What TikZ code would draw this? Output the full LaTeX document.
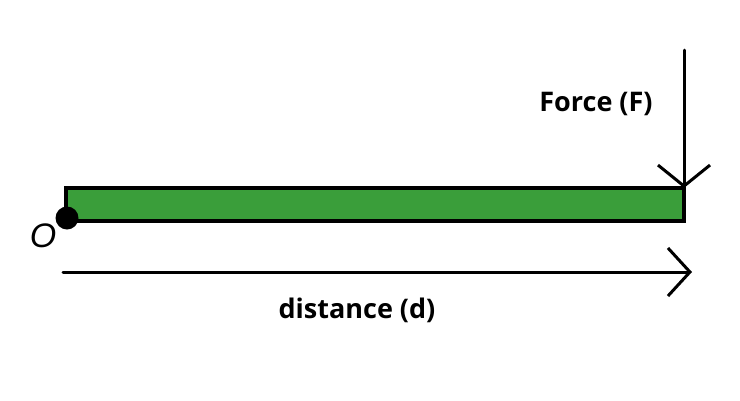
\documentclass[tikz,border=0pt]{standalone}
\usepackage{fontspec}
\setmainfont{Open Sans}
\usetikzlibrary{arrows.meta}
\definecolor{bargreen}{RGB}{58,158,58}
\tikzset{
  barbox/.style={draw=black, line width=4pt, fill=bargreen, rectangle, minimum width=618pt, minimum height=33pt, inner sep=0pt, outer sep=0pt, anchor=north west},
  pivot/.style={circle, fill=black, minimum size=23pt, inner sep=0pt},
  lbl/.style={font=\fontsize{27}{30}\selectfont\bfseries, inner sep=0pt},
  olbl/.style={font=\fontsize{34}{36}\selectfont\itshape, inner sep=0pt},
  arrowline/.style={line width=3pt, line cap=round, -{Straight Barb[length=21pt, width=52pt, line width=3pt]}},
  distline/.style={line width=3pt, line cap=round, -{Straight Barb[length=22pt, width=48pt, line width=3pt]}}
}
\begin{document}
\begin{tikzpicture}[x=1pt, y=-1pt]
\useasboundingbox (0,0) rectangle (740,400);
\node[barbox] (bar) at (66,188) {};
\node[pivot] (dot) at (67,218) {};
\node[olbl] (o) at (43,236) {\fontspec{Liberation Sans}\itshape O};
\coordinate (ftop) at (684,50);
\draw[arrowline] (ftop) -- (bar.north east);
\node[lbl] (force) at (596,104) {Force (F)};
\coordinate (dstart) at (63,272);
\coordinate (dend) at (692,272);
\draw[distline] (dstart) -- (dend);
\node[lbl] (dist) at (357,310) {distance (d)};
\end{tikzpicture}
\end{document}
